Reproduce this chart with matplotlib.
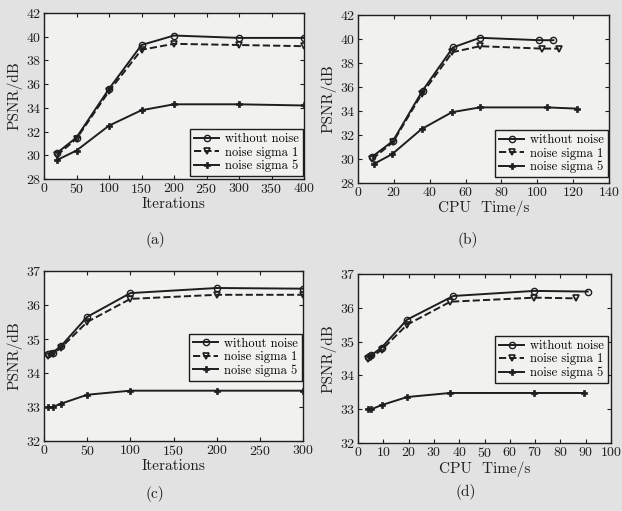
import matplotlib
matplotlib.use("Agg")
import matplotlib.pyplot as plt

plt.rcParams['font.family'] = ['cmr10', 'DejaVu Serif']
plt.rcParams['mathtext.fontset'] = 'cm'
plt.rcParams['axes.formatter.use_mathtext'] = True

series_names = ["without noise", "noise sigma 1", "noise sigma 5"]

# (a) PSNR vs iterations, y 28-42
a_x = [20, 50, 100, 150, 200, 300, 400]
a_clean = [30.2, 31.5, 35.6, 39.3, 40.1, 39.9, 39.9]
a_s1 = [30.0, 31.4, 35.4, 38.9, 39.4, 39.3, 39.2]
a_s5 = [29.6, 30.4, 32.5, 33.8, 34.3, 34.3, 34.2]

# (b) PSNR vs CPU time, y 28-42
b_x_clean = [8, 19.5, 36, 53, 68, 101, 109]
b_clean = [30.2, 31.5, 35.7, 39.3, 40.1, 39.9, 39.9]
b_x_s1 = [8, 19.5, 35.5, 52.7, 68, 102.5, 112]
b_s1 = [30.0, 31.4, 35.4, 38.9, 39.4, 39.2, 39.2]
b_x_s5 = [9, 19, 35.5, 52.4, 68, 105.5, 122]
b_s5 = [29.6, 30.4, 32.5, 33.9, 34.3, 34.3, 34.2]

# (c) PSNR vs iterations, y 32-37
c_x = [5, 10, 20, 50, 100, 200, 300]
c_clean = [34.55, 34.6, 34.8, 35.65, 36.35, 36.5, 36.48]
c_s1 = [34.5, 34.55, 34.75, 35.5, 36.18, 36.3, 36.3]
c_s5 = [33.0, 33.0, 33.1, 33.36, 33.48, 33.48, 33.48]

# (d) PSNR vs CPU time, y 32-37
d_x_clean = [3.8, 5.3, 9.3, 19.4, 37.7, 69.7, 90.8]
d_clean = [34.55, 34.6, 34.82, 35.65, 36.35, 36.5, 36.48]
d_x_s1 = [3.8, 5.3, 9.3, 19.4, 36.5, 69.7, 86.3]
d_s1 = [34.5, 34.55, 34.75, 35.5, 36.18, 36.3, 36.28]
d_x_s5 = [3.8, 5.3, 9.3, 19.4, 36.4, 69.7, 89.5]
d_s5 = [33.0, 33.0, 33.12, 33.36, 33.48, 33.48, 33.48]

W, H = 622, 511
fig = plt.figure(figsize=(W / 100, H / 100), dpi=100)
fig.patch.set_facecolor('#e2e2e2')

def rect(l, r, t, b):
    return [l / W, 1 - b / H, (r - l) / W, (b - t) / H]

ink = '#1e1e1e'

def panel(r, xs, ys, xlim, xticks, ylim, yticks, xlabel, leg_loc, leg_anchor):
    ax = fig.add_axes(r)
    ax.set_facecolor('#f1f1ef')
    styles = [dict(ls='-', marker='o', ms=4.5, mfc='none', mew=1.0),
              dict(ls='--', marker='v', ms=5, mfc='none', mew=1.2),
              dict(ls='-', marker='P', ms=4.5, mfc=ink, mew=0.5)]
    for x, y, st, name in zip(xs, ys, styles, series_names):
        ax.plot(x, y, color=ink, lw=1.4, label=name, **st)
    ax.set_xlim(*xlim)
    ax.set_ylim(*ylim)
    ax.set_xticks(xticks)
    ax.set_yticks(yticks)
    ax.tick_params(direction='in', top=True, right=True, length=3, width=0.8,
                   labelsize=10, colors=ink, pad=2)
    for s in ax.spines.values():
        s.set_linewidth(1.0)
        s.set_color(ink)
    ax.set_xlabel(xlabel, fontsize=11, color=ink, labelpad=1)
    ax.set_ylabel('PSNR/dB', fontsize=11, color=ink, labelpad=2)
    leg = ax.legend(loc=leg_loc, bbox_to_anchor=leg_anchor, fontsize=9,
                    fancybox=False, framealpha=1, edgecolor=ink,
                    handlelength=2.0, handletextpad=0.5, borderpad=0.3,
                    labelspacing=0.1, borderaxespad=0.0)
    leg.get_frame().set_linewidth(1.0)
    leg.get_frame().set_facecolor('#f1f1ef')
    return ax

panel(rect(44, 304, 13, 179), [a_x, a_x, a_x], [a_clean, a_s1, a_s5],
      (0, 400), range(0, 401, 50), (28, 42), range(28, 43, 2), 'Iterations',
      'lower right', (0.996, 0.018))
panel(rect(358, 609, 15, 183), [b_x_clean, b_x_s1, b_x_s5], [b_clean, b_s1, b_s5],
      (0, 140), range(0, 141, 20), (28, 42), range(28, 43, 2), 'CPU  Time/s',
      'lower right', (0.996, 0.036))
panel(rect(44, 303, 271, 441), [c_x, c_x, c_x], [c_clean, c_s1, c_s5],
      (0, 300), range(0, 301, 50), (32, 37), range(32, 38, 1), 'Iterations',
      'upper right', (0.996, 0.63))
panel(rect(358, 611, 274, 443), [d_x_clean, d_x_s1, d_x_s5], [d_clean, d_s1, d_s5],
      (0, 100), range(0, 101, 10), (32, 37), range(32, 38, 1), 'CPU  Time/s',
      'upper right', (0.988, 0.633))

for lab, x, y in [('(a)', 155, 240), ('(b)', 468, 240), ('(c)', 155, 494), ('(d)', 466, 492)]:
    fig.text(x / W, 1 - y / H, lab, ha='center', va='center', fontsize=11, color=ink)

fig.savefig('out.png', dpi=100, facecolor=fig.get_facecolor())
